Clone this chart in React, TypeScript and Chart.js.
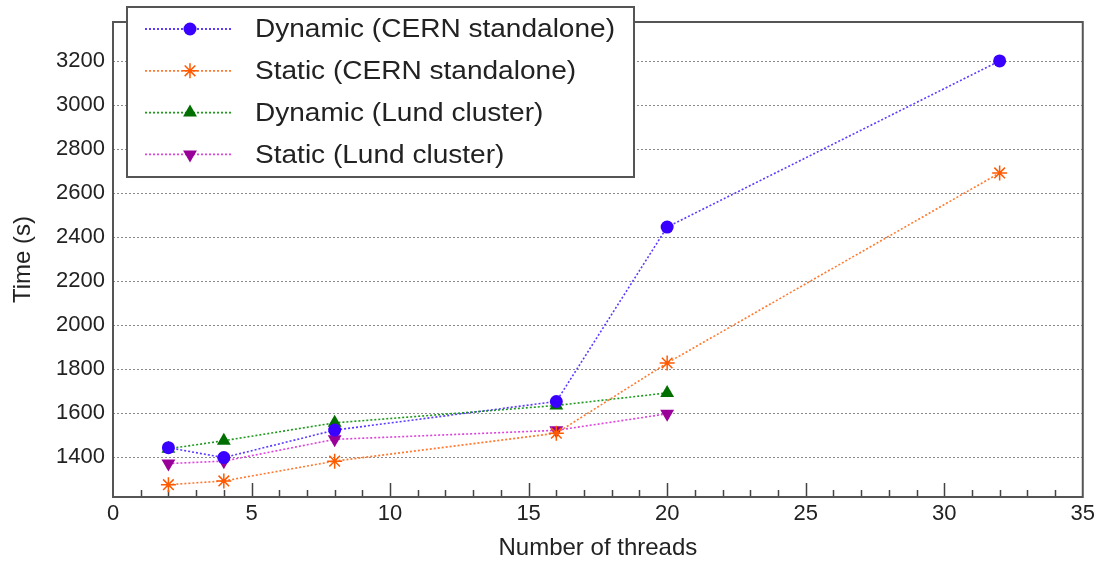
import React, { useEffect, useRef } from 'react';
import { Chart, registerables } from 'chart.js';

Chart.register(...registerables);

// ---- data ----
const threadsCern = [2, 4, 8, 16, 20, 32];
const threadsLund = [2, 4, 8, 16, 20];
const dynamicCern = [1442, 1397, 1522, 1652, 2445, 3200];
const staticCern = [1274, 1291, 1381, 1508, 1827, 2691];
const dynamicLund = [1437, 1474, 1555, 1634, 1691];
const staticLund = [1370, 1381, 1480, 1521, 1596];

const yTickValues = [1400, 1600, 1800, 2000, 2200, 2400, 2600, 2800, 3000, 3200];
const seriesLabels = [
  'Dynamic (CERN standalone)',
  'Static (CERN standalone)',
  'Dynamic (Lund cluster)',
  'Static (Lund cluster)',
];
const xTitle = 'Number of threads';
const yTitle = 'Time (s)';

const FONT = "'Liberation Sans', Arial, Helvetica, sans-serif";

const styles = [
  { line: '#5a3cff', fill: '#3a00ff', shape: 'circle', radius: 6.5, rot: 0 },
  { line: '#ff7a30', fill: '#ff5a00', shape: 'star', radius: 7.5, rot: 0 },
  { line: '#1e9a1e', fill: '#006f00', shape: 'triangle', radius: 8, rot: 0 },
  { line: '#dd44dd', fill: '#990099', shape: 'triangle', radius: 8, rot: 180 },
];

function drawMarker(ctx: CanvasRenderingContext2D, s: any, x: number, y: number) {
  ctx.save();
  ctx.fillStyle = s.fill;
  ctx.strokeStyle = s.fill;
  ctx.lineWidth = 1.5;
  ctx.setLineDash([]);
  const r = s.radius;
  ctx.beginPath();
  if (s.shape === 'circle') {
    ctx.arc(x, y, r, 0, Math.PI * 2);
    ctx.fill();
  } else if (s.shape === 'triangle') {
    let a = (s.rot * Math.PI) / 180;
    ctx.moveTo(x + Math.sin(a) * r, y - Math.cos(a) * r);
    a += (2 * Math.PI) / 3;
    ctx.lineTo(x + Math.sin(a) * r, y - Math.cos(a) * r);
    a += (2 * Math.PI) / 3;
    ctx.lineTo(x + Math.sin(a) * r, y - Math.cos(a) * r);
    ctx.closePath();
    ctx.fill();
  } else {
    for (let k = 0; k < 4; k++) {
      const a = (k * Math.PI) / 4;
      ctx.moveTo(x - Math.cos(a) * r, y - Math.sin(a) * r);
      ctx.lineTo(x + Math.cos(a) * r, y + Math.sin(a) * r);
    }
    ctx.stroke();
  }
  ctx.restore();
}

const framePlugin = {
  id: 'frameAndLegend',
  beforeDatasetsDraw(chart: any) {
    const { ctx, chartArea, scales } = chart;
    const { left, right, top, bottom } = chartArea;
    const x = scales.x;
    const y = scales.y;
    ctx.save();
    // dotted horizontal grid
    ctx.strokeStyle = '#8a8a8a';
    ctx.lineWidth = 1.2;
    ctx.setLineDash([2, 2]);
    ctx.beginPath();
    for (const v of yTickValues) {
      const py = Math.round(y.getPixelForValue(v)) + 0.5;
      ctx.moveTo(left, py);
      ctx.lineTo(right, py);
    }
    ctx.stroke();
    ctx.setLineDash([]);
    // inward x ticks (minor every 1, major every 5)
    ctx.strokeStyle = '#444';
    ctx.lineWidth = 1.5;
    ctx.beginPath();
    for (let i = Math.ceil(x.min) + 1; i < x.max; i++) {
      const px = Math.round(x.getPixelForValue(i)) + 0.5;
      const len = i % 5 === 0 ? 14 : 7;
      ctx.moveTo(px, bottom);
      ctx.lineTo(px, bottom - len);
    }
    ctx.stroke();
    // frame
    ctx.strokeStyle = '#555';
    ctx.lineWidth = 2;
    ctx.strokeRect(left, top, right - left, bottom - top);
    ctx.restore();
  },
  afterDraw(chart: any) {
    const { ctx } = chart;
    ctx.save();
    const bx = 127, by = 7, bw = 507, bh = 170;
    ctx.fillStyle = '#ffffff';
    ctx.fillRect(bx, by, bw, bh);
    ctx.strokeStyle = '#555';
    ctx.lineWidth = 2;
    ctx.strokeRect(bx, by, bw, bh);
    ctx.font = `26px ${FONT}`;
    ctx.textBaseline = 'middle';
    const sx = 360 / ctx.measureText(seriesLabels[0]).width;
    for (let i = 0; i < seriesLabels.length; i++) {
      const cy = 29 + i * 41.8;
      const s = styles[i];
      ctx.strokeStyle = s.line;
      ctx.lineWidth = 1.8;
      ctx.setLineDash([2, 2]);
      ctx.beginPath();
      ctx.moveTo(145, cy);
      ctx.lineTo(233, cy);
      ctx.stroke();
      ctx.setLineDash([]);
      drawMarker(ctx, s, 190, cy);
      ctx.save();
      ctx.translate(255, cy + 1);
      ctx.scale(sx, 1);
      ctx.fillStyle = '#222';
      ctx.fillText(seriesLabels[i], 0, 0);
      ctx.restore();
    }
    ctx.restore();
  },
};

function makeDataset(i: number, xs: number[], ys: number[]) {
  const s = styles[i];
  return {
    label: seriesLabels[i],
    data: xs.map((xv, k) => ({ x: xv, y: ys[k] })),
    borderColor: s.line,
    backgroundColor: s.fill,
    borderWidth: 1.6,
    borderDash: [2, 2],
    pointStyle: s.shape,
    pointRadius: s.radius,
    pointRotation: s.rot,
    pointBorderColor: s.fill,
    pointBackgroundColor: s.fill,
    pointBorderWidth: s.shape === 'star' ? 1.5 : 0,
    tension: 0,
  };
}

export default function App() {
  const ref = useRef<HTMLCanvasElement>(null);
  useEffect(() => {
    const canvas = ref.current;
    if (!canvas) return;
    const chart = new Chart(canvas, {
      type: 'line',
      data: {
        datasets: [
          makeDataset(0, threadsCern, dynamicCern),
          makeDataset(1, threadsCern, staticCern),
          makeDataset(2, threadsLund, dynamicLund),
          makeDataset(3, threadsLund, staticLund),
        ] as any,
      },
      options: {
        animation: false,
        responsive: false,
        devicePixelRatio: 1,
        layout: { padding: { top: 22, right: 15, left: 0, bottom: 0 } },
        plugins: { legend: { display: false }, tooltip: { enabled: false } },
        scales: {
          x: {
            type: 'linear',
            min: 0,
            max: 35,
            grid: { display: false, drawTicks: false },
            border: { display: false },
            ticks: {
              stepSize: 5,
              padding: 4,
              color: '#222',
              font: { family: FONT, size: 22 },
              maxRotation: 0,
              callback: (v: any) => String(v),
            },
            title: {
              display: true,
              text: xTitle,
              color: '#222',
              font: { family: FONT, size: 24 },
              padding: { top: 0, bottom: 0 },
            },
            afterFit(scale: any) {
              scale.height = 66;
            },
          },
          y: {
            type: 'linear',
            min: 1218,
            max: 3377,
            grid: { display: false, drawTicks: false },
            border: { display: false },
            ticks: {
              padding: 8,
              color: '#222',
              font: { family: FONT, size: 22 },
              callback: (v: any) => String(v),
            },
            afterBuildTicks(scale: any) {
              scale.ticks = yTickValues.map((v) => ({ value: v }));
            },
            title: {
              display: true,
              text: yTitle,
              color: '#222',
              font: { family: FONT, size: 24 },
              padding: { top: 9, bottom: 0 },
            },
            afterFit(scale: any) {
              scale.width = 113;
            },
          },
        },
      },
      plugins: [framePlugin],
    });
    return () => chart.destroy();
  }, []);
  return (
    <div style={{ position: 'absolute', left: 0, top: 0, width: 1099, height: 563, background: '#fff' }}>
      <canvas ref={ref} width={1099} height={563} style={{ width: 1099, height: 563, display: 'block' }} />
    </div>
  );
}
